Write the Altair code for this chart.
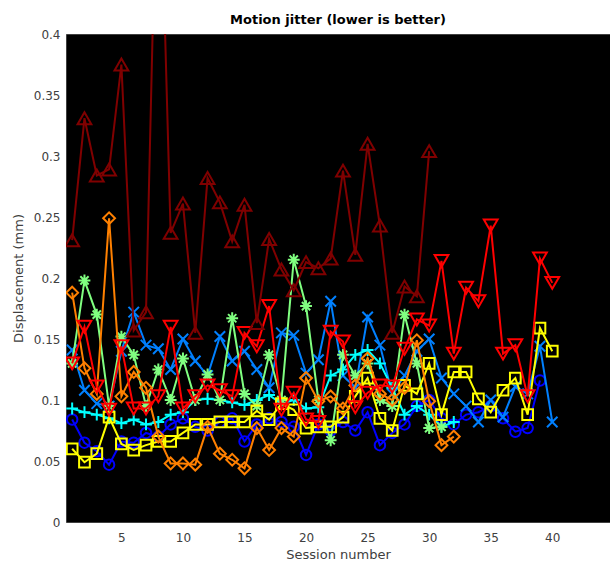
import altair as alt
import pandas as pd

sessions = list(range(1, 41))

# Series values (mm); None = no session
blue_circle = [0.084, 0.065, 0.058, 0.047, 0.066, 0.065, 0.073, 0.070, 0.080, 0.085,
               0.078, 0.075, 0.082, 0.085, 0.066, 0.080, 0.085, 0.082, 0.078, 0.055,
               0.080, 0.075, 0.082, 0.075, 0.090, 0.063, 0.073, 0.080, 0.095, 0.100,
               0.085, 0.080, 0.088, 0.090, 0.095, 0.085, 0.074, 0.077, 0.116, None]
lightblue_x = [0.141, 0.108, 0.097, 0.095, 0.140, 0.172, 0.145, 0.142, 0.125, 0.150,
               0.132, 0.120, 0.152, 0.132, 0.140, 0.125, 0.110, 0.155, 0.153, 0.122,
               0.133, 0.181, 0.120, 0.110, 0.168, 0.145, 0.105, 0.120, 0.140, 0.150,
               0.118, 0.105, 0.095, 0.082, 0.100, 0.086, 0.111, 0.105, 0.144, 0.082]
cyan_plus = [0.093, 0.090, 0.088, 0.085, 0.081, 0.084, 0.080, 0.082, 0.088, 0.090,
             0.100, 0.101, 0.100, 0.098, 0.096, 0.100, 0.104, 0.097, 0.100, 0.093,
             0.094, 0.120, 0.125, 0.137, 0.141, 0.130, 0.110, 0.088, 0.095, 0.088,
             0.078, 0.082, None, None, None, None, None, None, None, None]
green_star = [0.130, 0.198, 0.170, 0.095, 0.152, 0.137, 0.095, 0.125, 0.100, 0.134,
              0.100, 0.121, 0.100, 0.167, 0.105, 0.095, 0.137, 0.100, 0.215, 0.177,
              0.100, 0.067, 0.137, 0.120, 0.130, 0.100, 0.095, 0.170, 0.130, 0.077,
              0.078, None, None, None, None, None, None, None, None, None]
yellow_square = [0.060, 0.049, 0.056, 0.086, 0.064, 0.059, 0.063, 0.066, 0.066, 0.073,
                 0.080, 0.080, 0.082, 0.082, 0.082, 0.091, 0.084, 0.097, 0.092, 0.077,
                 0.078, 0.078, 0.086, 0.103, 0.118, 0.085, 0.075, 0.112, 0.105, 0.130,
                 0.088, 0.123, 0.123, 0.101, 0.090, 0.108, 0.118, 0.088, 0.159, 0.140]
orange_diamond = [0.188, 0.126, 0.105, 0.249, 0.103, 0.123, 0.110, 0.070, 0.048, 0.048,
                  0.047, 0.078, 0.056, 0.051, 0.044, 0.077, 0.059, 0.077, 0.070, 0.118,
                  0.099, 0.103, 0.093, 0.112, 0.134, 0.105, 0.100, 0.110, 0.149, 0.099,
                  0.063, 0.070, None, None, None, None, None, None, None, None]
red_tri_down = [0.130, 0.160, 0.111, 0.092, 0.144, 0.093, 0.093, 0.103, 0.160, 0.093,
                0.103, 0.112, 0.108, 0.103, 0.155, 0.144, 0.177, 0.092, 0.106, 0.084,
                0.082, 0.156, 0.148, 0.094, 0.106, 0.112, 0.111, 0.142, 0.166, 0.161,
                0.214, 0.138, 0.192, 0.181, 0.243, 0.138, 0.145, 0.103, 0.216, 0.196]
darkred_tri_up = [0.231, 0.331, 0.284, 0.289, 0.375, 0.157, 0.172, 0.600, 0.237, 0.261,
                  0.155, 0.282, 0.262, 0.230, 0.260, 0.163, 0.232, 0.207, 0.190, 0.213,
                  0.208, 0.216, 0.288, 0.219, 0.310, 0.243, 0.155, 0.193, 0.185, 0.304,
                  None, None, None, None, None, None, None, None, None, None]

series_values = [blue_circle, lightblue_x, cyan_plus, green_star,
                 yellow_square, orange_diamond, red_tri_down, darkred_tri_up]
series_names = ["s1", "s2", "s3", "s4", "s5", "s6", "s7", "s8"]

x_ticks = [5, 10, 15, 20, 25, 30, 35, 40]
y_ticks = [0, 0.05, 0.1, 0.15, 0.2, 0.25, 0.3, 0.35, 0.4]

# styles
series_colors = ["#0000ff", "#0080ff", "#00ffff", "#80ff80",
                 "#ffff00", "#ff8000", "#ff0000", "#800000"]
X_PATH = "M-1,-1L1,1M-1,1L1,-1"
PLUS_PATH = "M-1,0L1,0M0,-1L0,1"
STAR_PATH = "M-1,0L1,0M0,-1L0,1M-0.7,-0.7L0.7,0.7M-0.7,0.7L0.7,-0.7"
series_shapes = ["circle", X_PATH, PLUS_PATH, STAR_PATH,
                 "square", "diamond", "triangle-down", "triangle-up"]
series_sizes = [110, 110, 140, 140, 115, 140, 190, 190]

rows = []
for name, vals in zip(series_names, series_values):
    for s, v in zip(sessions, vals):
        if v is not None:
            rows.append({"series": name, "session": s, "value": v})
df = pd.DataFrame(rows)

x_scale = alt.Scale(domain=[0.5, 44.69], nice=False, zero=False)
y_scale = alt.Scale(domain=[0, 0.4], nice=False)

x_axis = alt.Axis(values=x_ticks, title="Session number",
                  grid=False, domain=False, ticks=False, labelPadding=10,
                  labelFontSize=12, titleFontSize=13, titleFontWeight="normal",
                  labelColor="#404040", titleColor="#404040", titlePadding=5,
                  labelFont="DejaVu Sans", titleFont="DejaVu Sans")
y_axis = alt.Axis(values=y_ticks,
                  labelExpr="datum.value == 0 ? '0' : format(datum.value, '.2~f')",
                  title="Displacement (mm)", grid=False, domain=False, ticks=False,
                  labelPadding=6, labelFontSize=12, titleFontSize=13,
                  titleFontWeight="normal", labelColor="#404040", titleColor="#404040",
                  titlePadding=8, labelFont="DejaVu Sans", titleFont="DejaVu Sans")

enc_x = alt.X("session:Q", scale=x_scale, axis=x_axis)
enc_y = alt.Y("value:Q", scale=y_scale, axis=y_axis)

layers = []
for i, name in enumerate(series_names):
    base = alt.Chart(df).transform_filter(alt.datum.series == name)
    line = base.mark_line(color=series_colors[i], strokeWidth=2, clip=True).encode(
        x=enc_x, y=enc_y)
    pts = base.mark_point(color=series_colors[i], filled=False, strokeWidth=2,
                          shape=series_shapes[i], size=series_sizes[i], opacity=1,
                          clip=True).encode(x=enc_x, y=enc_y)
    layers += [line, pts]

chart = alt.layer(*layers).properties(
    width=544, height=488,
    title=alt.TitleParams("Motion jitter (lower is better)", fontSize=13,
                          fontWeight="bold", font="DejaVu Sans", color="#000000",
                          offset=1),
    autosize=alt.AutoSizeParams(type="none"),
    padding={"left": 66, "top": 34, "right": 0, "bottom": 40},
).configure(
    background="#ffffff",
    view=alt.ViewConfig(fill="#000000", stroke="#404040", strokeWidth=1),
)

chart.save("out.html", embed_options={"renderer": "svg", "actions": False})
